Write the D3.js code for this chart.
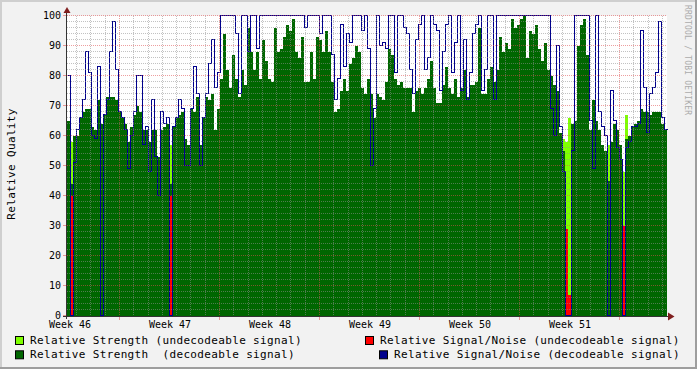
<!DOCTYPE html>
<html><head><meta charset="utf-8">
<script src="https://cdn.jsdelivr.net/npm/d3@7"></script>
<style>html,body{margin:0;padding:0;background:#f2f2f2;}svg{display:block;}</style>
</head><body><svg id="c" width="697" height="369"></svg>
<script>
// ---- data (one sample every ~5 hours, 200 samples over 6 weeks) ----
const strengthDecodeable = [
65,44,60,60,66,68,69,69,63,62, 72,64,67,73,73,73,72,68,66,64,
58,63,67,70,68,62,62,58,62,62, 53,62,63,64,44,63,66,67,68,59,
57,69,68,73,57,66,73,72,74,62, 69,79,94,82,76,87,79,73,82,77,
96,88,82,88,79,92,85,79,78,96, 88,89,93,97,95,99,88,86,93,78,
78,88,79,93,92,88,95,88,78,68, 69,75,79,75,84,86,90,88,76,74,
79,74,66,74,73,72,78,89,87,79, 77,78,76,76,76,68,75,76,74,76,
79,85,76,71,71,77,83,76,74,79, 73,76,82,73,77,77,78,96,74,74,
79,83,78,82,93,88,91,89,99,96, 97,99,100,86,95,94,97,89,85,91,
82,80,77,75,61,55,0,0,64,65, 90,97,99,87,62,72,65,62,57,55,
45,58,64,62,57,0,59,60,63,64, 65,69,68,68,67,68,68,68,64,62];
const snrDecodeable = [
80,0,51,62,66,72,88,81,60,59, 83,0,67,72,88,98,82,68,66,62,
49,60,68,80,80,57,63,48,72,53, 40,68,64,66,0,63,66,72,69,50,
50,69,83,74,50,66,74,84,92,76, 81,100,100,100,100,100,94,74,100,100,
88,100,100,89,100,100,100,100,100,100, 100,100,100,100,100,100,100,100,100,96,
100,100,100,100,94,100,100,100,87,72, 79,97,83,94,91,100,100,100,95,100,
89,50,69,100,90,91,89,100,100,81, 100,100,96,94,82,74,92,97,100,82,
86,100,97,95,75,88,97,100,81,91, 100,75,92,72,81,94,97,100,75,82,
100,100,72,100,100,100,100,100,100,100, 100,100,100,100,100,100,100,100,100,100,
100,69,60,90,63,48,0,0,55,100, 100,100,100,100,65,49,100,68,63,60,
0,75,65,56,52,0,56,58,63,63, 64,95,76,61,74,76,81,98,66,62];
// sparse series: [sample index, value]
const strengthUndecodeable = [[1,58],[34,57],[165,59],[166,58],[167,66],[180,57],[185,48],[186,67]];
const snrUndecodeable = [[1,40],[34,40],[166,29],[167,7],[185,30]];
const yTickValues = [0,10,20,30,40,50,60,70,80,90,100];
const weekLabels = ["Week 46","Week 47","Week 48","Week 49","Week 50","Week 51"];
const weekLabelOffset = 0.03;   // in weeks from start of plot
const dayGridOffset = 0.52;     // first major grid line, in weeks

// ---- drawing ----
const svg = d3.select("#c");
const FONT = "DejaVu Sans Mono";
const x = d3.scaleLinear().domain([0, 6]).range([67, 667]);
const y = d3.scaleLinear().domain([0, 100]).range([316, 16]);
const n = strengthDecodeable.length;
const step = 6 / n;

svg.append("rect").attr("width",697).attr("height",369).attr("fill","#f2f2f2");
svg.append("rect").attr("x",0).attr("y",0).attr("width",697).attr("height",2).attr("fill","#cfcfcf");
svg.append("rect").attr("x",0).attr("y",0).attr("width",2).attr("height",369).attr("fill","#cfcfcf");
svg.append("rect").attr("x",0).attr("y",367).attr("width",697).attr("height",2).attr("fill","#9e9e9e");
svg.append("rect").attr("x",695).attr("y",0).attr("width",2).attr("height",369).attr("fill","#9e9e9e");

// canvas
svg.append("rect").attr("x",x(0)).attr("y",y(100)).attr("width",x(6)-x(0)).attr("height",y(0)-y(100)).attr("fill","#ffffff");

const plot = svg.append("g").attr("shape-rendering","crispEdges");

// undecodeable strength (light green) bars
plot.selectAll("rect.lime").data(strengthUndecodeable).join("rect")
  .attr("x", d => x(d[0]*step)).attr("width", x(step)-x(0))
  .attr("y", d => y(d[1])).attr("height", d => y(0)-y(d[1]))
  .attr("fill","#7fff00");

// decodeable strength (dark green) area
const ext = strengthDecodeable.concat([strengthDecodeable[n-1]]);
plot.append("path").datum(ext)
  .attr("d", d3.area().x((d,i)=>x(i*step)).y0(y(0)).y1(d=>y(d)).curve(d3.curveStepAfter))
  .attr("fill","#006600");

// undecodeable SNR (red)
plot.selectAll("rect.red").data(snrUndecodeable).join("rect")
  .attr("x", d => x(d[0]*step)).attr("width", x(step)-x(0))
  .attr("y", d => y(d[1])).attr("height", d => y(0)-y(d[1]))
  .attr("fill","#ff0000");

// grid
const grid = svg.append("g").attr("shape-rendering","crispEdges");
const minorCol = "rgba(143,143,143,0.55)", majorCol = "rgba(222,79,79,0.55)";
const hMinor = d3.range(2, 100, 2).filter(v => v % 10 !== 0);
grid.selectAll("line.hm").data(hMinor).join("line")
  .attr("x1", x(0)).attr("x2", x(6)).attr("y1", d=>y(d)-0.5).attr("y2", d=>y(d)-0.5)
  .attr("stroke", minorCol).attr("stroke-dasharray","1,1");
const vMinor = d3.range(-3, 42).filter(k => ((k % 7) + 7) % 7 !== 0).map(k => dayGridOffset + k/7).filter(v => v > 0.01 && v < 5.99);
grid.selectAll("line.vm").data(vMinor).join("line")
  .attr("x1", d=>x(d)+0.5).attr("x2", d=>x(d)+0.5).attr("y1", y(100)).attr("y2", y(0))
  .attr("stroke", minorCol).attr("stroke-dasharray","1,1");
grid.selectAll("line.hM").data(yTickValues.filter(v=>v>0)).join("line")
  .attr("x1", x(0)).attr("x2", x(6)).attr("y1", d=>y(d)-0.5).attr("y2", d=>y(d)-0.5)
  .attr("stroke", majorCol).attr("stroke-dasharray","1,1");
const vMajor = d3.range(0, 6).map(k => dayGridOffset + k);
grid.selectAll("line.vM").data(vMajor).join("line")
  .attr("x1", d=>x(d)+0.5).attr("x2", d=>x(d)+0.5).attr("y1", y(100)).attr("y2", y(0))
  .attr("stroke", majorCol).attr("stroke-dasharray","1,1");

// decodeable SNR line (navy)
const extB = snrDecodeable.concat([snrDecodeable[n-1]]);
plot.append("path").datum(extB)
  .attr("d", d3.line().x((d,i)=>x(i*step)+0.5).y(d=>y(d)-0.5).curve(d3.curveStepAfter))
  .attr("fill","none").attr("stroke","#00008c").attr("stroke-width",1);

// axes
const ax = svg.append("g").attr("shape-rendering","crispEdges");
ax.append("line").attr("x1",66.5).attr("x2",66.5).attr("y1",y(0)+3).attr("y2",12).attr("stroke","#333");
ax.append("line").attr("x1",63).attr("x2",668).attr("y1",y(0)+0.5).attr("y2",y(0)+0.5).attr("stroke","#333");
ax.selectAll("line.yt").data(yTickValues).join("line")
  .attr("x1",63).attr("x2",66).attr("y1",d=>y(d)-0.5).attr("y2",d=>y(d)-0.5).attr("stroke",majorCol);
ax.selectAll("line.xt").data(vMajor).join("line")
  .attr("x1",d=>x(d)+0.5).attr("x2",d=>x(d)+0.5).attr("y1",y(0)+1).attr("y2",y(0)+4).attr("stroke",majorCol);
svg.append("path").attr("d","M63.5,13 L70.5,13 L67,7 Z").attr("fill","#801f1f");
svg.append("path").attr("d","M668,312.5 L668,320.5 L674.5,316.5 Z").attr("fill","#801f1f");

// y tick labels
svg.selectAll("text.yl").data(yTickValues).join("text")
  .attr("x", 61).attr("y", d=>y(d)+3)
  .attr("text-anchor","end").attr("font-family",FONT).attr("font-size","10px").attr("fill","#000")
  .text(d=>d);
// week labels
svg.selectAll("text.wl").data(weekLabels).join("text")
  .attr("x", (d,i)=>x(i+weekLabelOffset)).attr("y", 328)
  .attr("text-anchor","middle").attr("font-family",FONT).attr("font-size","10px").attr("fill","#000")
  .text(d=>d);

// axis title
svg.append("text").attr("transform","translate(15,164) rotate(-90)")
  .attr("text-anchor","middle").attr("font-family",FONT).attr("font-size","11px")
  .attr("letter-spacing","0.35px").attr("fill","#000").text("Relative Quality");

// watermark
svg.append("text").attr("transform","translate(685,5) rotate(90)")
  .attr("font-family",FONT).attr("font-size","8px").attr("letter-spacing","0.2px")
  .attr("fill","#ababab").text("RRDTOOL / TOBI OETIKER");

// legend
const legend = [
  {label:"Relative Strength (undecodeable signal)", color:"#7fff00", sx:15.5, tx:30, row:0},
  {label:"Relative Strength  (decodeable signal)", color:"#006600", sx:15.5, tx:30, row:1},
  {label:"Relative Signal/Noise (undecodeable signal)", color:"#ff0000", sx:365.5, tx:380, row:0},
  {label:"Relative Signal/Noise (decodeable signal)", color:"#00008c", sx:379.5, tx:394, row:1}
];
const lg = svg.append("g");
lg.selectAll("rect").data(legend).join("rect")
  .attr("x",d=>d.sx).attr("y",d=>336.5+d.row*14.3).attr("width",8).attr("height",8)
  .attr("fill",d=>d.color).attr("stroke","#000").attr("stroke-width",1);
lg.selectAll("text").data(legend).join("text")
  .attr("x",d=>d.tx).attr("y",d=>344+d.row*14.3)
  .attr("font-family",FONT).attr("font-size","11px").attr("letter-spacing","0.35px")
  .attr("fill","#000").style("white-space","pre").text(d=>d.label);
</script>
</body></html>
